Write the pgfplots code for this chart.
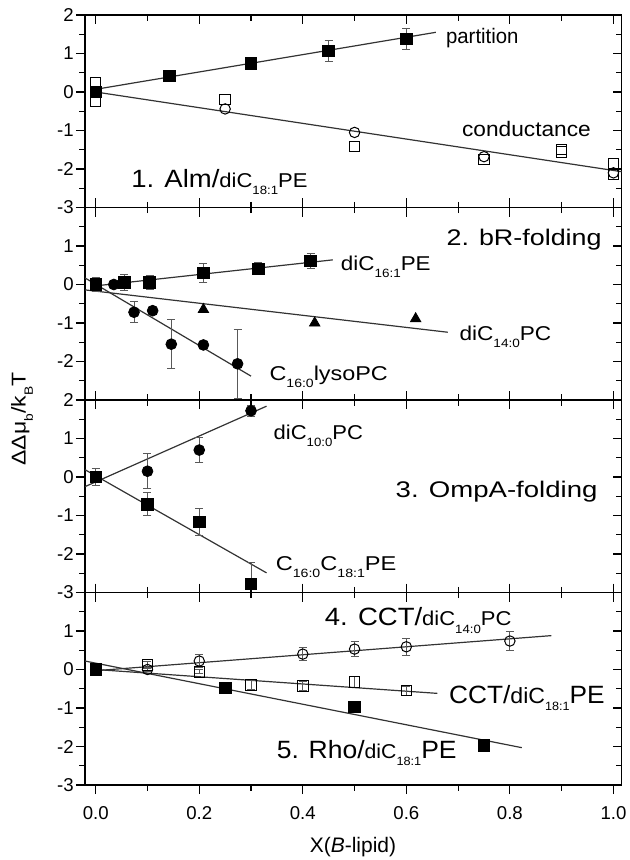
\documentclass[border=0pt]{standalone}
\usepackage{pgfplots}
\pgfplotsset{compat=1.18}
\usepackage{graphicx}
\usepackage{fontspec}
\setmainfont{Liberation Sans}
\definecolor{lncol}{gray}{0.2}
\definecolor{ebcol}{gray}{0.35}
\newcommand{\sub}[1]{\raisebox{-3.6pt}{\fontsize{6}{6}\selectfont #1}}
\newcommand{\annot}[2][1.18]{\scalebox{#1}[1]{#2}}
\newcommand{\fbig}{\fontsize{12.5}{14}\selectfont}
\newcommand{\fmid}{\fontsize{11.3}{13}\selectfont}
\newcommand{\fsm}{\fontsize{10}{12}\selectfont}
\tikzset{
  tl/.style={anchor=base west, inner sep=0pt},
  tr/.style={anchor=base east, inner sep=0pt},
}
\pgfplotsset{
  panelbase/.style={
    scale only axis, width=268.35pt, height=96.25pt,
    xmin=-0.0207, xmax=1.016, ymin=-3, ymax=2,
    xtick={0,0.2,0.4,0.6,0.8,1.0}, minor x tick num=1,
    ytick={-3,-2,-1,0,1,2}, minor y tick num=1,
    major tick length=4.5pt, minor tick length=2.8pt,
    axis line style={line width=0.6pt},
    every tick/.style={black, line width=0.55pt},
    xticklabels={},
  },
  panelmain/.style={panelbase, tick align=outside, ytick pos=left,
    yticklabel style={font=\fontsize{9.3}{10}\selectfont, inner sep=1pt},
    xticklabel style={font=\fontsize{9.3}{10}\selectfont, yshift=-2.5pt},
    /pgf/number format/assume math mode=true},
  panelin/.style={panelbase, tick align=inside, ytick pos=right, yticklabels={},
    axis line style={draw=none}},
  lfit/.style={lncol, line width=0.6pt, no marks},
  fsq/.style={only marks, mark=square*, mark size=2.9pt, mark options={fill=black, draw=black}},
  osq/.style={only marks, mark=square, mark size=2.6pt, mark options={fill=white, draw=black, line width=0.5pt}},
  osqn/.style={only marks, mark=square, mark size=2.6pt, mark options={draw=black, line width=0.5pt}},
  fci/.style={only marks, mark=*, mark size=2.7pt, mark options={fill=black, draw=black}},
  oci/.style={only marks, mark=o, mark size=2.6pt, mark options={fill=white, draw=black, line width=0.5pt}},
  ftr/.style={only marks, mark=triangle*, mark size=3pt, mark options={fill=black, draw=black}},
  witherr/.style={
    error bars/y dir=both, error bars/y explicit,
    error bars/error bar style={draw=ebcol, line width=0.5pt},
    error bars/error mark options={draw=ebcol, line width=0.5pt, mark size=2pt, rotate=90}},
}
\begin{document}
\begin{tikzpicture}
% ---------------- Panel 1 ----------------
\begin{axis}[panelmain, xtick pos=lower, at={(0pt,0pt)}, anchor=north west,
  yticklabels={-3,-2,-1,0,1,2}]
\addplot[lfit] coordinates {(0,0.07) (0.657,1.55)};
\addplot[lfit] coordinates {(0,0) (1.016,-2.07)};
\addplot[osq] coordinates {(0,0.25) (0,-0.25) (0.25,-0.2) (0.5,-1.41) (0.75,-1.76) (0.9,-1.5) (0.9,-1.56) (1.0,-1.85) (1.0,-2.15)};
\addplot[oci] coordinates {(0.25,-0.44) (0.5,-1.05) (0.75,-1.68) (1.0,-2.1)};
\addplot[fsq, witherr] coordinates {(0,0) +- (0,0) (0.142,0.42) +- (0,0) (0.3,0.75) +- (0,0) (0.45,1.07) +- (0,0.27) (0.6,1.38) +- (0,0.28)};
\node[tl] at (axis cs:0.676,1.25) {\annot[0.97]{\fontsize{10.5}{12}\selectfont partition}};
\node[tl] at (axis cs:0.707,-1.15) {\annot[1.08]{\fontsize{10.5}{12}\selectfont conductance}};
\node[tl] at (axis cs:0.068,-2.48) {\annot[1.1]{{\fbig 1. Alm/}{\fsm diC}\sub{18:1}{\fsm PE}}};
\end{axis}
\begin{axis}[panelin, xtick pos=both, at={(0pt,0pt)}, anchor=north west]
\end{axis}
% ---------------- Panel 2 ----------------
\begin{axis}[panelmain, xtick pos=both, at={(0pt,-96.25pt)}, anchor=north west,
  yticklabels={,-2,-1,0,1,}]
\addplot[lfit] coordinates {(-0.01,-0.05) (0.458,0.64)};
\addplot[lfit] coordinates {(-0.0207,-0.14) (0.68,-1.24)};
\addplot[lfit] coordinates {(-0.0207,0.17) (0.3,-2.38)};
\addplot[ftr] coordinates {(0.208,-0.65) (0.423,-1.0) (0.618,-0.89)};
\addplot[fci, witherr] coordinates {(0.035,0) +- (0,0) (0.074,-0.72) +- (0,0.27) (0.11,-0.68) +- (0,0) (0.146,-1.55) +- (0,0.63) (0.208,-1.57) +- (0,0) (0.274,-2.06) +- (0,0.9)};
\addplot[fsq, witherr] coordinates {(0,0) +- (0,0.17) (0.055,0.05) +- (0,0.2) (0.104,0.05) +- (0,0.18) (0.208,0.3) +- (0,0.24) (0.314,0.41) +- (0,0.15) (0.415,0.61) +- (0,0.2)};
\node[tr] at (axis cs:0.978,1.01) {\annot[1.19]{\fmid 2. bR-folding}};
\node[tl] at (axis cs:0.473,0.36) {\annot[1.12]{{\fsm diC}\sub{16:1}{\fsm PE}}};
\node[tl] at (axis cs:0.702,-1.45) {\annot[1.13]{{\fsm diC}\sub{14:0}{\fsm PC}}};
\node[tl] at (axis cs:0.335,-2.49) {\annot[1.17]{{\fsm C}\sub{16:0}{\fsm lysoPC}}};
\end{axis}
\begin{axis}[panelin, xtick pos=both, at={(0pt,-96.25pt)}, anchor=north west]
\end{axis}
% ---------------- Panel 3 ----------------
\begin{axis}[panelmain, xtick pos=both, at={(0pt,-192.5pt)}, anchor=north west,
  yticklabels={-3,-2,-1,0,1,2}]
\addplot[lfit] coordinates {(-0.0207,-0.25) (0.33,1.84)};
\addplot[lfit] coordinates {(-0.0207,0.19) (0.33,-2.49)};
\addplot[fci, witherr] coordinates {(0.1,0.15) +- (0,0.45) (0.2,0.7) +- (0,0.33) (0.3,1.72) +- (0,0.15)};
\addplot[fsq, witherr] coordinates {(0,0) +- (0,0.22) (0.1,-0.71) +- (0,0.3) (0.2,-1.17) +- (0,0.35) (0.3,-2.78) +- (0,0.55)};
\node[tl] at (axis cs:0.343,0.97) {\annot[1.1]{{\fsm diC}\sub{10:0}{\fsm PC}}};
\node[tr] at (axis cs:0.97,-0.54) {\annot[1.22]{\fmid 3. OmpA-folding}};
\node[tl] at (axis cs:0.347,-2.42) {\annot[1.18]{{\fsm C}\sub{16:0}{\fsm C}\sub{18:1}{\fsm PE}}};
\end{axis}
\begin{axis}[panelin, xtick pos=both, at={(0pt,-192.5pt)}, anchor=north west]
\end{axis}
% ---------------- Panel 4 ----------------
\begin{axis}[panelmain, xtick pos=both, at={(0pt,-288.75pt)}, anchor=north west,
  yticklabels={-3,-2,-1,0,1,},
  xticklabels={0.0,0.2,0.4,0.6,0.8,1.0}]
\addplot[lfit] coordinates {(0,-0.03) (0.88,0.88)};
\addplot[lfit] coordinates {(0,0) (0.66,-0.62)};
\addplot[lfit] coordinates {(-0.0207,0.22) (0.823,-2.03)};
\addplot[osqn, witherr] coordinates {(0,0) +- (0,0.05) (0.1,0.12) +- (0,0.1) (0.2,-0.06) +- (0,0.05) (0.3,-0.4) +- (0,0.12) (0.4,-0.43) +- (0,0.12) (0.5,-0.32) +- (0,0.15) (0.6,-0.55) +- (0,0.12)};
\addplot[oci, witherr] coordinates {(0,0) +- (0,0) (0.1,0) +- (0,0.05) (0.2,0.22) +- (0,0.16) (0.4,0.4) +- (0,0.17) (0.5,0.53) +- (0,0.2) (0.6,0.59) +- (0,0.22) (0.8,0.74) +- (0,0.25)};
\addplot[fsq] coordinates {(0,0) (0.25,-0.48) (0.5,-0.97) (0.75,-1.97)};
\node[tl] at (axis cs:0.442,1.13) {\annot[1.1]{{\fbig 4. CCT/}{\fsm diC}\sub{14:0}{\fsm PC}}};
\node[tl] at (axis cs:0.682,-0.87) {\annot[1.05]{{\fbig CCT/}{\fontsize{11}{13}\selectfont diC}\sub{18:1}{\fbig PE}}};
\node[tl] at (axis cs:0.349,-2.31) {\annot[1.06]{{\fbig 5. Rho/}{\fsm diC}\sub{18:1}{\fbig PE}}};
\end{axis}
\begin{axis}[panelin, xtick pos=upper, at={(0pt,-288.75pt)}, anchor=north west]
\end{axis}
% axis labels
\node[rotate=90, anchor=center, inner sep=0pt] at (-31.5pt,-202pt)
  {\annot[1.15]{\fontsize{10}{12}\selectfont ΔΔμ\sub{b}/k\sub{B}T}};
\node[anchor=center, inner sep=0pt] at (134pt,-416pt)
  {\fontsize{10.5}{12}\selectfont X(\textit{B}-lipid)};
\pgfresetboundingbox
\path (-42.5pt,7.5pt) rectangle (272pt,-422.5pt);
\end{tikzpicture}
\end{document}
